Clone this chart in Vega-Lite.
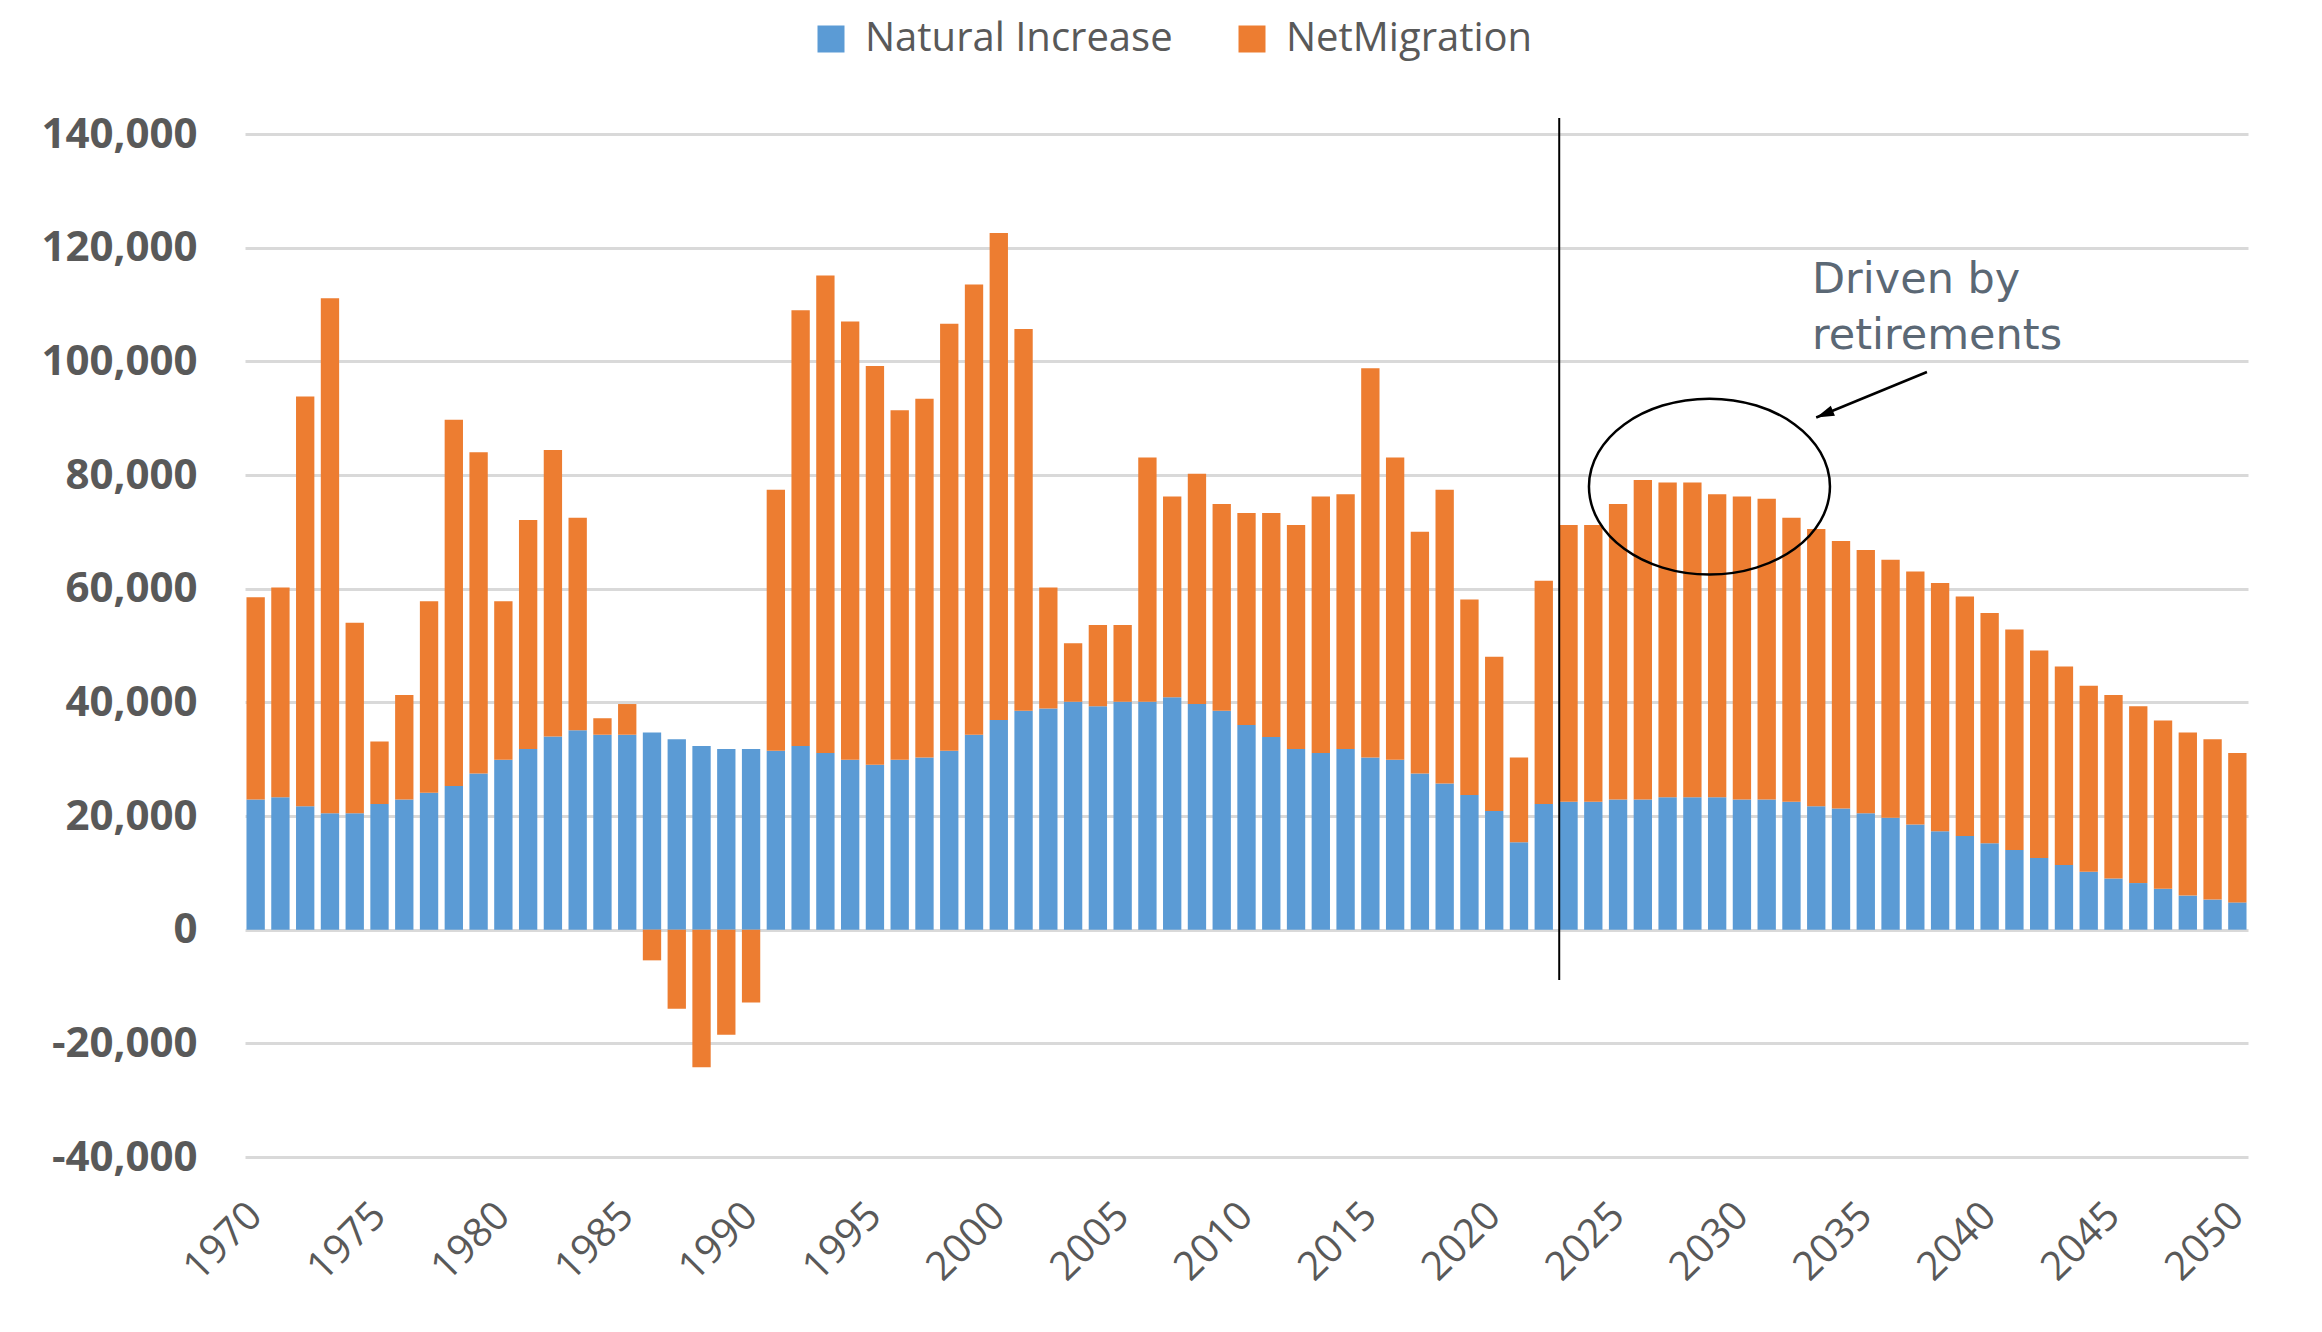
{
  "$schema": "https://vega.github.io/schema/vega-lite/v6.json",
  "autosize": {"type": "none"},
  "width": 2003,
  "height": 1023,
  "padding": {"left": 245, "top": 134, "right": 74, "bottom": 175},
  "background": "#ffffff",
  "config": {
    "view": {"stroke": null},
    "font": "Open Sans",
    "locale": {"number": {"decimal": ".", "thousands": ",", "grouping": [3], "currency": ["$", ""], "minus": "-"}}
  },
  "layer": [
    {
      "data": {"values": [
        {"year": 1970, "Natural Increase": 22900, "NetMigration": 35600},
        {"year": 1971, "Natural Increase": 23300, "NetMigration": 36900},
        {"year": 1972, "Natural Increase": 21700, "NetMigration": 72100},
        {"year": 1973, "Natural Increase": 20500, "NetMigration": 90600},
        {"year": 1974, "Natural Increase": 20500, "NetMigration": 33500},
        {"year": 1975, "Natural Increase": 22100, "NetMigration": 11000},
        {"year": 1976, "Natural Increase": 22900, "NetMigration": 18400},
        {"year": 1977, "Natural Increase": 24100, "NetMigration": 33700},
        {"year": 1978, "Natural Increase": 25300, "NetMigration": 64400},
        {"year": 1979, "Natural Increase": 27500, "NetMigration": 56500},
        {"year": 1980, "Natural Increase": 29900, "NetMigration": 27900},
        {"year": 1981, "Natural Increase": 31800, "NetMigration": 40300},
        {"year": 1982, "Natural Increase": 34000, "NetMigration": 50400},
        {"year": 1983, "Natural Increase": 35100, "NetMigration": 37400},
        {"year": 1984, "Natural Increase": 34300, "NetMigration": 2900},
        {"year": 1985, "Natural Increase": 34300, "NetMigration": 5400},
        {"year": 1986, "Natural Increase": 34700, "NetMigration": -5400},
        {"year": 1987, "Natural Increase": 33500, "NetMigration": -13900},
        {"year": 1988, "Natural Increase": 32300, "NetMigration": -24200},
        {"year": 1989, "Natural Increase": 31800, "NetMigration": -18500},
        {"year": 1990, "Natural Increase": 31800, "NetMigration": -12800},
        {"year": 1991, "Natural Increase": 31500, "NetMigration": 45900},
        {"year": 1992, "Natural Increase": 32300, "NetMigration": 76700},
        {"year": 1993, "Natural Increase": 31100, "NetMigration": 84000},
        {"year": 1994, "Natural Increase": 29900, "NetMigration": 77100},
        {"year": 1995, "Natural Increase": 29000, "NetMigration": 70200},
        {"year": 1996, "Natural Increase": 29900, "NetMigration": 61500},
        {"year": 1997, "Natural Increase": 30300, "NetMigration": 63100},
        {"year": 1998, "Natural Increase": 31500, "NetMigration": 75100},
        {"year": 1999, "Natural Increase": 34300, "NetMigration": 79200},
        {"year": 2000, "Natural Increase": 36900, "NetMigration": 85700},
        {"year": 2001, "Natural Increase": 38500, "NetMigration": 67200},
        {"year": 2002, "Natural Increase": 38900, "NetMigration": 21300},
        {"year": 2003, "Natural Increase": 40100, "NetMigration": 10300},
        {"year": 2004, "Natural Increase": 39300, "NetMigration": 14300},
        {"year": 2005, "Natural Increase": 40100, "NetMigration": 13500},
        {"year": 2006, "Natural Increase": 40100, "NetMigration": 43000},
        {"year": 2007, "Natural Increase": 40900, "NetMigration": 35300},
        {"year": 2008, "Natural Increase": 39700, "NetMigration": 40500},
        {"year": 2009, "Natural Increase": 38500, "NetMigration": 36400},
        {"year": 2010, "Natural Increase": 36000, "NetMigration": 37300},
        {"year": 2011, "Natural Increase": 33900, "NetMigration": 39400},
        {"year": 2012, "Natural Increase": 31800, "NetMigration": 39400},
        {"year": 2013, "Natural Increase": 31100, "NetMigration": 45100},
        {"year": 2014, "Natural Increase": 31800, "NetMigration": 44800},
        {"year": 2015, "Natural Increase": 30300, "NetMigration": 68500},
        {"year": 2016, "Natural Increase": 29900, "NetMigration": 53200},
        {"year": 2017, "Natural Increase": 27500, "NetMigration": 42500},
        {"year": 2018, "Natural Increase": 25700, "NetMigration": 51700},
        {"year": 2019, "Natural Increase": 23700, "NetMigration": 34400},
        {"year": 2020, "Natural Increase": 20900, "NetMigration": 27100},
        {"year": 2021, "Natural Increase": 15400, "NetMigration": 14900},
        {"year": 2022, "Natural Increase": 22100, "NetMigration": 39300},
        {"year": 2023, "Natural Increase": 22500, "NetMigration": 48700},
        {"year": 2024, "Natural Increase": 22500, "NetMigration": 48700},
        {"year": 2025, "Natural Increase": 22900, "NetMigration": 52000},
        {"year": 2026, "Natural Increase": 22900, "NetMigration": 56200},
        {"year": 2027, "Natural Increase": 23300, "NetMigration": 55400},
        {"year": 2028, "Natural Increase": 23300, "NetMigration": 55400},
        {"year": 2029, "Natural Increase": 23300, "NetMigration": 53300},
        {"year": 2030, "Natural Increase": 22900, "NetMigration": 53300},
        {"year": 2031, "Natural Increase": 22900, "NetMigration": 52900},
        {"year": 2032, "Natural Increase": 22500, "NetMigration": 50000},
        {"year": 2033, "Natural Increase": 21700, "NetMigration": 48800},
        {"year": 2034, "Natural Increase": 21300, "NetMigration": 47100},
        {"year": 2035, "Natural Increase": 20500, "NetMigration": 46300},
        {"year": 2036, "Natural Increase": 19700, "NetMigration": 45400},
        {"year": 2037, "Natural Increase": 18500, "NetMigration": 44500},
        {"year": 2038, "Natural Increase": 17300, "NetMigration": 43700},
        {"year": 2039, "Natural Increase": 16500, "NetMigration": 42100},
        {"year": 2040, "Natural Increase": 15200, "NetMigration": 40500},
        {"year": 2041, "Natural Increase": 14000, "NetMigration": 38800},
        {"year": 2042, "Natural Increase": 12600, "NetMigration": 36500},
        {"year": 2043, "Natural Increase": 11400, "NetMigration": 34900},
        {"year": 2044, "Natural Increase": 10200, "NetMigration": 32700},
        {"year": 2045, "Natural Increase": 9000, "NetMigration": 32300},
        {"year": 2046, "Natural Increase": 8200, "NetMigration": 31100},
        {"year": 2047, "Natural Increase": 7200, "NetMigration": 29600},
        {"year": 2048, "Natural Increase": 6000, "NetMigration": 28700},
        {"year": 2049, "Natural Increase": 5300, "NetMigration": 28200},
        {"year": 2050, "Natural Increase": 4800, "NetMigration": 26300}
      ]},
      "transform": [{"fold": ["Natural Increase", "NetMigration"], "as": ["type", "value"]}],
      "mark": {"type": "bar"},
      "encoding": {
        "x": {
          "field": "year", "type": "ordinal",
          "scale": {"paddingInner": 0.26, "paddingOuter": 0.06},
          "axis": {
            "values": [1970, 1975, 1980, 1985, 1990, 1995, 2000, 2005, 2010, 2015, 2020, 2025, 2030, 2035, 2040, 2045, 2050],
            "title": null, "labelAngle": -45, "labelAlign": "right", "labelBaseline": "middle",
            "labelFont": "Open Sans", "labelFontSize": 40, "labelColor": "#595959",
            "labelPadding": 52, "ticks": false, "domain": false, "grid": false
          }
        },
        "y": {
          "field": "value", "type": "quantitative", "stack": "zero",
          "scale": {"domain": [-40000, 140000], "nice": false},
          "axis": {
            "values": [-40000, -20000, 0, 20000, 40000, 60000, 80000, 100000, 120000, 140000],
            "format": ",.0f", "title": null, "labelFont": "Open Sans", "labelFontSize": 42,
            "labelFontWeight": "bold", "labelColor": "#595959", "labelPadding": 48,
            "ticks": false, "domain": false, "grid": true, "gridColor": "#d9d9d9", "gridWidth": 3
          }
        },
        "color": {
          "field": "type", "type": "nominal",
          "scale": {"domain": ["Natural Increase", "NetMigration"], "range": ["#5B9BD5", "#ED7D31"]},
          "legend": {
            "title": null, "orient": "none", "direction": "horizontal",
            "legendX": 566, "legendY": -115, "padding": 0,
            "symbolType": "square", "symbolSize": 729, "symbolStrokeWidth": 0,
            "labelFont": "Open Sans", "labelFontSize": 40, "labelColor": "#595959",
            "labelLimit": 0, "labelOffset": 14, "columnPadding": 59
          }
        },
        "order": {"field": "type", "sort": "ascending"}
      }
    },
    {
      "layer": [
        {
          "data": {"values": [{"x": 2022.625, "top": 142800, "bottom": -8860}]},
          "mark": {"type": "rule", "color": "#000000", "strokeWidth": 2},
          "encoding": {
            "x": {"field": "x", "type": "quantitative", "scale": {"domain": [1969.57, 2050.431], "nice": false, "zero": false}, "axis": null},
            "y": {"field": "top", "type": "quantitative"},
            "y2": {"field": "bottom"}
          }
        },
        {
          "data": {"values": [{"x": 2028.69, "y": 77960}]},
          "mark": {
            "type": "point", "filled": false, "opacity": 1, "stroke": "#000000", "strokeWidth": 2.5,
            "shape": "M-1,0 C-1,-0.4032 -0.5523,-0.73 0,-0.73 C0.5523,-0.73 1,-0.4032 1,0 C1,0.4032 0.5523,0.73 0,0.73 C-0.5523,0.73 -1,0.4032 -1,0 Z",
            "size": 58081
          },
          "encoding": {
            "x": {"field": "x", "type": "quantitative", "scale": {"domain": [1969.57, 2050.431], "nice": false, "zero": false}, "axis": null},
            "y": {"field": "y", "type": "quantitative"}
          }
        },
        {
          "data": {"values": [{"x": 2037.47, "y": 98120, "x2": 2033.0, "y2": 90120}]},
          "mark": {"type": "rule", "color": "#000000", "strokeWidth": 2.5},
          "encoding": {
            "x": {"field": "x", "type": "quantitative", "scale": {"domain": [1969.57, 2050.431], "nice": false, "zero": false}, "axis": null},
            "x2": {"field": "x2"},
            "y": {"field": "y", "type": "quantitative"},
            "y2": {"field": "y2"}
          }
        },
        {
          "data": {"values": [{"x": 2033.0, "y": 90120}]},
          "mark": {
            "type": "point", "filled": true, "opacity": 1, "color": "#000000", "strokeWidth": 0,
            "shape": "M0,0 L-0.6,2 L0.6,2 Z", "size": 324, "angle": 247.7
          },
          "encoding": {
            "x": {"field": "x", "type": "quantitative", "scale": {"domain": [1969.57, 2050.431], "nice": false, "zero": false}, "axis": null},
            "y": {"field": "y", "type": "quantitative"}
          }
        },
        {
          "data": {"values": [{"x": 2032.83, "y": 111970, "label": ["Driven by", "retirements"]}]},
          "mark": {
            "type": "text", "align": "left", "baseline": "alphabetic", "font": "DejaVu Sans",
            "fontSize": 43, "lineHeight": 56, "color": "#5b6875"
          },
          "encoding": {
            "x": {"field": "x", "type": "quantitative", "scale": {"domain": [1969.57, 2050.431], "nice": false, "zero": false}, "axis": null},
            "y": {"field": "y", "type": "quantitative"},
            "text": {"field": "label"}
          }
        }
      ]
    }
  ],
  "resolve": {"scale": {"x": "independent"}}
}
